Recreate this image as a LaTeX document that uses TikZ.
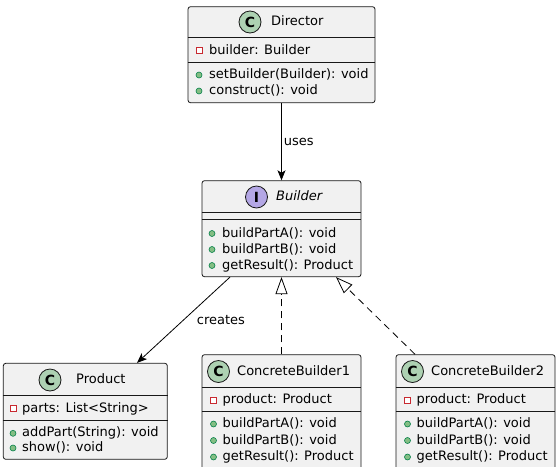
\documentclass[tikz,border=0pt]{standalone}
\usepackage{fontspec}
\setmainfont{DejaVu Sans}
\usetikzlibrary{arrows.meta}

\definecolor{boxfill}{HTML}{F1F1F1}
\definecolor{boxline}{HTML}{181818}
\definecolor{classspot}{HTML}{ADD1B2}
\definecolor{ifacespot}{HTML}{B4A7E5}
\definecolor{pubfill}{HTML}{84BE84}
\definecolor{publine}{HTML}{038048}
\definecolor{privline}{HTML}{C82930}

\tikzset{
  umlbox/.style={draw=boxline,fill=boxfill,rounded corners=2.5pt,line width=0.8pt,inner sep=0pt},
  spot/.style={circle,draw=boxline,line width=0.8pt,minimum size=22pt,inner sep=0pt,
    font=\fontsize{14}{14}\selectfont\bfseries},
  title/.style={anchor=west,inner sep=0pt,text height=9.5pt,text depth=2.5pt,
    font=\fontsize{13}{16}\selectfont},
  member/.style={anchor=west,inner sep=0pt,text height=9.5pt,text depth=2.5pt,
    font=\fontsize{13}{16}\selectfont},
  pub/.style={circle,draw=publine,fill=pubfill,minimum size=6pt,inner sep=0pt,line width=0.6pt},
  priv/.style={rectangle,draw=privline,fill=white,minimum size=6pt,inner sep=0pt,line width=0.7pt},
  sep/.style={draw=boxline,line width=0.8pt},
  assoc/.style={line width=0.8pt,-{Stealth[length=10pt,width=8pt,inset=2.5pt]}},
  realize/.style={line width=0.8pt,dash pattern=on 7pt off 5pt,
    -{Triangle[open,length=17pt,width=12pt]}},
  edgelabel/.style={inner sep=0pt,font=\fontsize{13}{16}\selectfont}
}

\begin{document}
\begin{tikzpicture}[x=1pt,y=-1pt]
  \fill[white] (0,0) rectangle (556,466);
  \useasboundingbox (0,0) rectangle (556,466);

  % Director
  \node[umlbox,minimum width=187pt,minimum height=96pt] (director) at (281.5,54.7) {};
  \node[spot,fill=classspot] (directorSpot) at (250,22) {C};
  \node[title] (directorTitle) at (271,22) {Director};
  \draw[sep] (director.west |- 0,37.3) -- (director.east |- 0,37.3);
  \draw[sep] (director.west |- 0,62) -- (director.east |- 0,62);
  \node[priv] at (199,50.5) {};
  \node[member] at (209,50.5) {builder: Builder};
  \node[pub] at (199,75) {};
  \node[member] at (209,75) {setBuilder(Builder): void};
  \node[pub] at (199,91) {};
  \node[member] at (209,91) {construct(): void};

  % Builder
  \node[umlbox,minimum width=159pt,minimum height=96pt] (builder) at (281.5,228.7) {};
  \node[spot,fill=ifacespot] (builderSpot) at (256.5,197) {I};
  \node[title,font=\fontsize{13}{16}\selectfont\itshape] (builderTitle) at (276,197) {Builder};
  \draw[sep] (builder.west |- 0,212.7) -- (builder.east |- 0,212.7);
  \draw[sep] (builder.west |- 0,219) -- (builder.east |- 0,219);
  \node[pub] at (212,233.5) {};
  \node[member] at (222,233.5) {buildPartA(): void};
  \node[pub] at (212,249.5) {};
  \node[member] at (222,249.5) {buildPartB(): void};
  \node[pub] at (212,265.5) {};
  \node[member] at (222,265.5) {getResult(): Product};

  % Product
  \node[umlbox,minimum width=164pt,minimum height=96pt] (product) at (85.3,411.3) {};
  \node[spot,fill=classspot] (productSpot) at (50,380) {C};
  \node[title] (productTitle) at (76,380) {Product};
  \draw[sep] (product.west |- 0,395.7) -- (product.east |- 0,395.7);
  \draw[sep] (product.west |- 0,420) -- (product.east |- 0,420);
  \node[priv] at (13,408.5) {};
  \node[member] at (22,408.5) {parts: List<String>};
  \node[pub] at (13,433.3) {};
  \node[member] at (22,433.3) {addPart(String): void};
  \node[pub] at (13,448) {};
  \node[member] at (22,448) {show(): void};

  % ConcreteBuilder1
  \node[umlbox,minimum width=159pt,minimum height=126pt] (concrete1) at (281.5,417.7) {};
  \node[spot,fill=classspot] (concrete1Spot) at (218.5,371.5) {C};
  \node[title] (concrete1Title) at (237,371.5) {ConcreteBuilder1};
  \draw[sep] (concrete1.west |- 0,387.3) -- (concrete1.east |- 0,387.3);
  \draw[sep] (concrete1.west |- 0,411.7) -- (concrete1.east |- 0,411.7);
  \node[priv] at (213.5,400) {};
  \node[member] at (222.5,400) {product: Product};
  \node[pub] at (213.5,424) {};
  \node[member] at (222.5,424) {buildPartA(): void};
  \node[pub] at (213.5,440.5) {};
  \node[member] at (222.5,440.5) {buildPartB(): void};
  \node[pub] at (213.5,457) {};
  \node[member] at (222.5,457) {getResult(): Product};

  % ConcreteBuilder2
  \node[umlbox,minimum width=159pt,minimum height=126pt] (concrete2) at (475.5,417.7) {};
  \node[spot,fill=classspot] (concrete2Spot) at (412.5,371.5) {C};
  \node[title] (concrete2Title) at (431,371.5) {ConcreteBuilder2};
  \draw[sep] (concrete2.west |- 0,387.3) -- (concrete2.east |- 0,387.3);
  \draw[sep] (concrete2.west |- 0,411.7) -- (concrete2.east |- 0,411.7);
  \node[priv] at (407.5,400) {};
  \node[member] at (416.5,400) {product: Product};
  \node[pub] at (407.5,424) {};
  \node[member] at (416.5,424) {buildPartA(): void};
  \node[pub] at (407.5,440.5) {};
  \node[member] at (416.5,440.5) {buildPartB(): void};
  \node[pub] at (407.5,457) {};
  \node[member] at (416.5,457) {getResult(): Product};

  % relations
  \draw[assoc] (director) -- node[edgelabel,right=2pt] {uses} (builder);
  \draw[assoc] (builder.south -| 230,0) -- node[edgelabel,right=13pt] {creates} (product.north -| 137,0);
  \draw[realize] (concrete1) -- (builder);
  \draw[realize] (concrete2.north -| 415,0) -- (builder.south -| 336,0);
\end{tikzpicture}
\end{document}
